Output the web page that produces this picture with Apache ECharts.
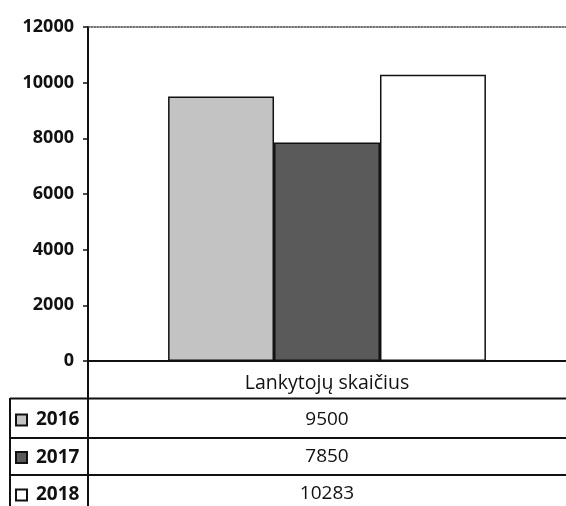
<!DOCTYPE html>
<html>
<head>
<meta charset="utf-8">
<script src="https://cdn.jsdelivr.net/npm/echarts@6/dist/echarts.min.js"></script>
<style>html,body{margin:0;padding:0;background:#fff}#c{width:566px;height:506px}</style>
</head>
<body>
<div id="c"></div>
<script>
const categories = ['Lankytojų skaičius'];
const seriesNames = ['2016', '2017', '2018'];
const values2016 = [9500];
const values2017 = [7850];
const values2018 = [10283];
const yTicks = { min: 0, max: 12000, interval: 2000 };

const seriesValues = [values2016, values2017, values2018];
const fills = ['#c3c3c3', '#5a5a5a', '#ffffff'];
const font = 'Open Sans';

const chart = echarts.init(document.getElementById('c'), null, { renderer: 'canvas' });

const tableMargins = [49.5, 86.5, 123.5];
const xAxes = [{
  type: 'category', data: categories, position: 'bottom',
  axisLine: { show: true, lineStyle: { color: '#111', width: 2 } },
  axisTick: { show: false },
  axisLabel: { margin: 12.5, fontFamily: font, fontSize: 19.5, color: '#111' }
}, {
  type: 'category', data: categories, position: 'top',
  axisLine: { show: true, lineStyle: { color: '#444', width: 1.5, type: 'dotted' } },
  axisTick: { show: false }, axisLabel: { show: false }
}];
seriesValues.forEach((vals, i) => {
  xAxes.push({
    type: 'category', data: vals.map(String), position: 'bottom',
    axisLine: { show: false }, axisTick: { show: false },
    axisLabel: { margin: tableMargins[i], fontFamily: font, fontSize: 19, color: '#111' }
  });
});

chart.setOption({
  backgroundColor: '#fff',
  animation: false,
  grid: { left: 88, right: -4, top: 27, bottom: 145, containLabel: false },
  legend: {
    orient: 'vertical', left: 15, top: 410, padding: 0,
    itemWidth: 11, itemHeight: 11, itemGap: 17.5,
    icon: 'rect',
    textStyle: { fontFamily: font, fontSize: 19, fontWeight: 'bold', color: '#111', lineHeight: 20, padding: [0, 0, 0, 4] },
    data: seriesNames
  },
  xAxis: xAxes,
  yAxis: {
    type: 'value', min: yTicks.min, max: yTicks.max, interval: yTicks.interval,
    axisLine: { show: true, lineStyle: { color: '#111', width: 2 } },
    axisTick: { show: true, length: 5, lineStyle: { color: '#111', width: 1.5 } },
    axisLabel: { margin: 14, fontFamily: font, fontSize: 18, fontWeight: 'bold', color: '#111',
      formatter: (v) => String(v) },
    splitLine: { show: false }
  },
  series: seriesNames.map((name, i) => ({
    name: name, type: 'bar', data: seriesValues[i],
    xAxisIndex: 0,
    barGap: '0%', barCategoryGap: '33.5%',
    itemStyle: { color: fills[i], borderColor: '#111', borderWidth: 1.5 }
  })),
  graphic: [
    { type: 'line', shape: { x1: 10, y1: 398.5, x2: 566, y2: 398.5 }, style: { stroke: '#111', lineWidth: 2 } },
    { type: 'line', shape: { x1: 10, y1: 438, x2: 566, y2: 438 }, style: { stroke: '#111', lineWidth: 2 } },
    { type: 'line', shape: { x1: 10, y1: 475, x2: 566, y2: 475 }, style: { stroke: '#111', lineWidth: 2 } },
    { type: 'line', shape: { x1: 10, y1: 398, x2: 10, y2: 506 }, style: { stroke: '#111', lineWidth: 2 } },
    { type: 'line', shape: { x1: 88, y1: 361, x2: 88, y2: 506 }, style: { stroke: '#111', lineWidth: 2 } }
  ]
});
</script>
</body>
</html>
